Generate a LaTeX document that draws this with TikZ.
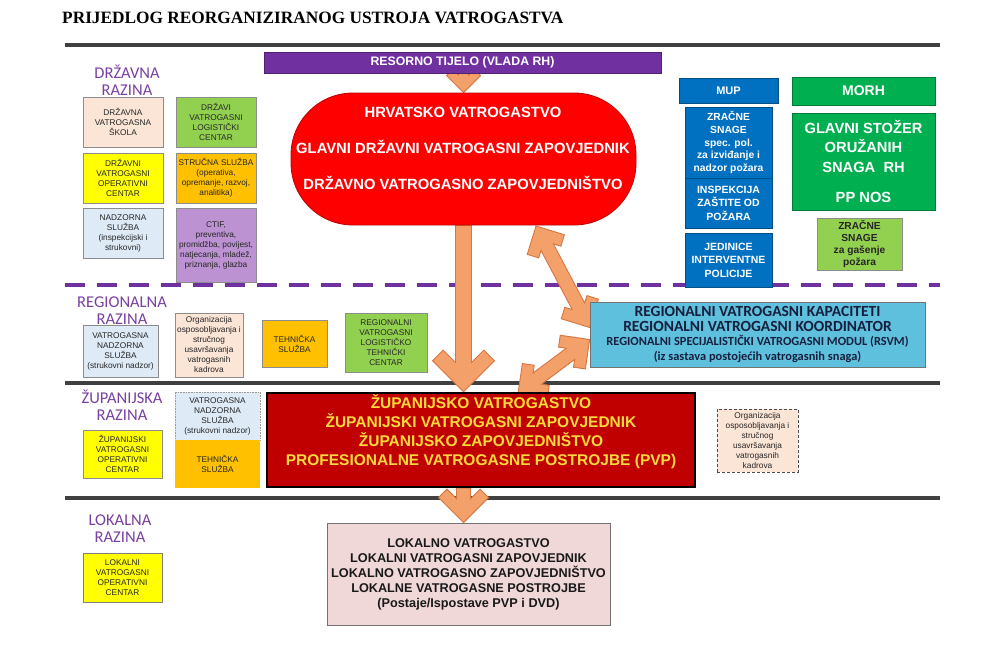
\documentclass[tikz,border=0pt]{standalone}
\usepackage{fontspec}
\setmainfont{Liberation Sans}
\newfontfamily\titlefont{Liberation Serif}
\newfontfamily\calfont{Carlito}
\usetikzlibrary{arrows.meta}
\definecolor{pinkL}{RGB}{251,229,214}
\definecolor{greenL}{RGB}{146,208,80}
\definecolor{yellowB}{RGB}{255,255,0}
\definecolor{orangeB}{RGB}{255,192,0}
\definecolor{blueL}{RGB}{222,235,247}
\definecolor{purpleL}{RGB}{188,146,210}
\definecolor{mupblue}{RGB}{0,112,192}
\definecolor{morhgreen}{RGB}{0,176,80}
\definecolor{regblue}{RGB}{95,192,222}
\definecolor{zupred}{RGB}{192,0,0}
\definecolor{ovalred}{RGB}{255,0,0}
\definecolor{lokpink}{RGB}{241,216,216}
\definecolor{txtyellow}{RGB}{255,218,60}
\definecolor{lineviolet}{RGB}{112,48,160}
\definecolor{labviolet}{RGB}{122,64,160}
\definecolor{darkline}{RGB}{64,64,64}
\definecolor{arrowF}{RGB}{243,160,106}
\definecolor{arrowE}{RGB}{214,118,66}
\definecolor{navytxt}{RGB}{22,32,62}
\pgfdeclarelayer{rules}
\pgfdeclarelayer{arr}
\pgfsetlayers{rules,arr,main}
\newcommand\mybox[7]{\node[#2,minimum width={#5-#3},minimum height={#6-#4}] (#1) at ({(#3+#5)/2},{(#4+#6)/2}) {#7};}
% chevron block arrow: #1 start, #2 end, #3 shaft half width, #4 head half width, #5 arm thickness, #6 double (1/0)
\newcommand\chev[6]{%
 \path (#1) coordinate (chA) (#2) coordinate (chB);
 \pgfpointdiff{\pgfpointanchor{chA}{center}}{\pgfpointanchor{chB}{center}}%
 \pgfgetlastxy{\chdx}{\chdy}%
 \pgfmathsetmacro\chL{veclen(\chdx,\chdy)}%
 \pgfmathsetmacro\chAng{atan2(\chdy,\chdx)}%
 \pgfmathsetmacro\chT{#5/sqrt(2)}%
 \pgfmathsetmacro\chW{#3}%
 \pgfmathsetmacro\chH{#4}%
 \pgfmathsetmacro\chEa{\chL-\chH}%
 \pgfmathsetmacro\chEb{\chL-\chH-\chT}%
 \pgfmathsetmacro\chEc{\chH-\chT}%
 \pgfmathsetmacro\chEd{\chL-2*\chT-\chW}%
 \pgfmathsetmacro\chSa{\chH}%
 \pgfmathsetmacro\chSb{\chH+\chT}%
 \pgfmathsetmacro\chSd{2*\chT+\chW}%
 \begin{pgfonlayer}{arr}
 \begin{scope}[shift={(chA)},rotate=\chAng]
 \ifnum#6=1
  \filldraw[fill=arrowF,draw=arrowE,line width=0.9pt,line join=miter]
   (\chL pt,0pt) -- (\chEa pt,\chH pt) -- (\chEb pt,\chEc pt) -- (\chEd pt,\chW pt)
   -- (\chSd pt,\chW pt) -- (\chSb pt,\chEc pt) -- (\chSa pt,\chH pt) -- (0pt,0pt)
   -- (\chSa pt,-\chH pt) -- (\chSb pt,-\chEc pt) -- (\chSd pt,-\chW pt)
   -- (\chEd pt,-\chW pt) -- (\chEb pt,-\chEc pt) -- (\chEa pt,-\chH pt) -- cycle;
 \else
  \filldraw[fill=arrowF,draw=arrowE,line width=0.9pt,line join=miter]
   (\chL pt,0pt) -- (\chEa pt,\chH pt) -- (\chEb pt,\chEc pt) -- (\chEd pt,\chW pt)
   -- (0pt,\chW pt) -- (0pt,-\chW pt)
   -- (\chEd pt,-\chW pt) -- (\chEb pt,-\chEc pt) -- (\chEa pt,-\chH pt) -- cycle;
 \fi
 \end{scope}
 \end{pgfonlayer}
}
\begin{document}
\begin{tikzpicture}[x=1pt,y=-1pt,
  box/.style={draw=black!45,line width=0.6pt,align=center,inner sep=1pt,text=black!85,font=\fontsize{8.3}{10}\selectfont},
  level/.style={text=labviolet,align=center,font=\calfont\fontsize{16.5}{17}\selectfont,inner sep=0pt},
  rule/.style={draw=darkline,line width=4pt},
  dashrule/.style={draw=lineviolet,line width=4pt,dash pattern=on 20pt off 12pt},
  mupbox/.style={fill=mupblue,draw=mupblue!70!black,line width=0.6pt,text=white,align=center,inner sep=1pt,font=\bfseries\fontsize{10.5}{12.6}\selectfont},
]
\useasboundingbox (0,0) rectangle (1000,649);
\begin{pgfonlayer}{rules}
\fill[white] (0,0) rectangle (1000,649);
\draw[rule] (65,45) -- (940,45);
\draw[dashrule] (65,285) -- (940,285);
\draw[rule] (65,383) -- (940,383);
\draw[rule] (65,498) -- (940,498);
\end{pgfonlayer}

% title
\node[anchor=west,inner sep=0pt,font=\titlefont\bfseries\fontsize{17.3}{19}\selectfont] (title) at (62,18) {PRIJEDLOG REORGANIZIRANOG USTROJA VATROGASTVA};

% level labels
\node[level] (l1) at (127,80) {DRŽAVNA\\RAZINA};
\node[level] (l2) at (122,311) {REGIONALNA\\RAZINA};
\node[level] (l3) at (122,405) {ŽUPANIJSKA\\RAZINA};
\node[level] (l4) at (120,529) {LOKALNA\\RAZINA};

% state level boxes
\mybox{dvs}{box,fill=pinkL}{83}{97}{163}{147}{DRŽAVNA\\VATROGASNA\\ŠKOLA}
\mybox{dvlc}{box,fill=greenL}{176}{97}{256}{147}{DRŽAVI\\VATROGASNI\\LOGISTIČKI\\CENTAR}
\mybox{dvoc}{box,fill=yellowB}{83}{153}{163}{203}{DRŽAVNI\\VATROGASNI\\OPERATIVNI\\CENTAR}
\mybox{ss}{box,fill=orangeB}{176}{153}{256}{203}{STRUČNA SLUŽBA\\(operativa,\\opremanje, razvoj,\\analitika)}
\mybox{ns}{box,fill=blueL}{83}{208}{163}{258}{NADZORNA\\SLUŽBA\\(inspekcijski i\\strukovni)}
\mybox{ctif}{box,fill=purpleL}{176}{208}{256}{282}{CTIF,\\preventiva,\\promidžba, povijest,\\natjecanja, mladež,\\priznanja, glazba}

% resorno tijelo + oval
\mybox{bar}{fill=lineviolet,draw=lineviolet!70!black,line width=0.6pt,text=white,inner sep=0pt,font=\bfseries\fontsize{12.3}{13}\selectfont}{264}{52}{661}{73}{RESORNO TIJELO (VLADA RH)}
\mybox{oval}{fill=ovalred,draw=ovalred!75!black,line width=0.8pt,rounded corners=62pt,inner sep=0pt}{291}{93}{636}{225}{}
\node[text=white,align=center,inner sep=0pt,font=\bfseries\fontsize{14.8}{36}\selectfont] (ovaltxt) at (463,148) {HRVATSKO VATROGASTVO\\GLAVNI DRŽAVNI VATROGASNI ZAPOVJEDNIK\\DRŽAVNO VATROGASNO ZAPOVJEDNIŠTVO};

% MUP
\mybox{mup}{mupbox,font=\bfseries\fontsize{11}{12}\selectfont}{679}{78}{778}{103}{MUP}
\mybox{mup1}{mupbox,font=\bfseries\fontsize{10.3}{12.6}\selectfont}{685}{107}{772}{178}{ZRAČNE\\SNAGE\\spec. pol.\\za izviđanje i\\nadzor požara}
\mybox{mup2}{mupbox,font=\bfseries\fontsize{10.5}{13.5}\selectfont}{685}{178}{772}{228}{INSPEKCIJA\\ZAŠTITE OD\\POŽARA}
\mybox{mup3}{mupbox,font=\bfseries\fontsize{10.5}{13.5}\selectfont}{685}{233}{772}{287}{JEDINICE\\INTERVENTNE\\POLICIJE}

% MORH
\mybox{morh}{fill=morhgreen,draw=morhgreen!70!black,line width=0.6pt,text=white,inner sep=0pt,font=\bfseries\fontsize{14}{15}\selectfont}{792}{77}{935}{105}{MORH}
\mybox{gsor}{fill=morhgreen,draw=morhgreen!70!black,line width=0.6pt,text=white,align=center,inner sep=0pt,font=\bfseries\fontsize{14.7}{19.5}\selectfont}{792}{113}{935}{210}{GLAVNI STOŽER\\ORUŽANIH\\SNAGA\ \ RH\\[11pt]PP NOS}
\mybox{zsg}{fill=greenL,draw=black!45,line width=0.6pt,text=black!85,align=center,inner sep=0pt,font=\bfseries\fontsize{10.2}{12.3}\selectfont}{817}{218}{902}{270}{ZRAČNE\\SNAGE\\za gašenje\\požara}

% regional level
\mybox{rvns}{box,fill=blueL}{83}{325}{158}{377}{VATROGASNA\\NADZORNA\\SLUŽBA\\(strukovni nadzor)}
\mybox{rorg}{box,fill=pinkL}{175}{313}{243}{377}{Organizacija\\osposobljavanja i\\stručnog\\usavršavanja\\vatrogasnih\\kadrova}
\mybox{rts}{box,fill=orangeB}{262}{320}{327}{367}{TEHNIČKA\\SLUŽBA}
\mybox{rlc}{box,fill=greenL}{345}{313}{427}{372}{REGIONALNI\\VATROGASNI\\LOGISTIČKO\\TEHNIČKI\\CENTAR}
\mybox{reg}{fill=regblue,draw=black!55,line width=0.7pt,text=navytxt,align=center,inner sep=0pt,font=\calfont\bfseries\fontsize{15.5}{14.6}\selectfont}{590}{302}{925}{367}{REGIONALNI VATROGASNI KAPACITETI\\REGIONALNI VATROGASNI KOORDINATOR\\{\fontsize{12.4}{14.6}\selectfont REGIONALNI SPECIJALISTIČKI VATROGASNI MODUL (RSVM)}\\{\fontsize{12.4}{14.6}\selectfont (iz sastava postojećih vatrogasnih snaga)}}

% county level
\mybox{zoc}{box,fill=yellowB}{83}{430}{162}{478}{ŽUPANIJSKI\\VATROGASNI\\OPERATIVNI\\CENTAR}
\mybox{zns}{box,fill=blueL,draw=black!40,densely dotted}{175}{392}{260}{440}{VATROGASNA\\NADZORNA\\SLUŽBA\\(strukovni nadzor)}
\mybox{zts}{box,fill=orangeB,draw=none}{175}{440}{260}{488}{TEHNIČKA\\SLUŽBA}
\mybox{zup}{fill=zupred,draw=black,line width=2.5pt,inner sep=0pt}{267}{393}{695}{487}{}
\node[text=txtyellow,align=center,inner sep=0pt,font=\bfseries\fontsize{15.5}{19}\selectfont] (zuptxt) at (481,432) {ŽUPANIJSKO VATROGASTVO\\ŽUPANIJSKI VATROGASNI ZAPOVJEDNIK\\ŽUPANIJSKO ZAPOVJEDNIŠTVO\\PROFESIONALNE VATROGASNE POSTROJBE (PVP)};
\mybox{zorg}{box,fill=pinkL,draw=black!70,densely dashed}{717}{409}{798}{472}{Organizacija\\osposobljavanja i\\stručnog\\usavršavanja\\vatrogasnih\\kadrova}

% local level
\mybox{loc}{box,fill=yellowB,draw=black!50}{83}{553}{162}{602}{LOKALNI\\VATROGASNI\\OPERATIVNI\\CENTAR}
\mybox{lok}{fill=lokpink,draw=black!55,line width=0.8pt,text=black!90,align=center,inner sep=0pt,font=\bfseries\fontsize{12.7}{15}\selectfont}{327}{523}{610}{625}{LOKALNO VATROGASTVO\\LOKALNI VATROGASNI ZAPOVJEDNIK\\LOKALNO VATROGASNO ZAPOVJEDNIŠTVO\\LOKALNE VATROGASNE POSTROJBE\\(Postaje/Ispostave PVP i DVD)}

% connectors (block arrows)
\coordinate (oa) at (536,226);
\coordinate (za) at (518,393);
\chev{oval.north |- bar.south}{oval.north}{5}{17}{9}{0}
\chev{oval.south}{oval.south |- zup.north}{8}{31}{15}{0}
\chev{oa}{[yshift=7pt]reg.west}{7}{21}{12}{1}
\chev{[yshift=-5pt]reg.west}{za}{7}{21}{12}{1}
\chev{zup.south -| oval.south}{lok.north -| oval.south}{7}{25}{12}{0}
\end{tikzpicture}
\end{document}
